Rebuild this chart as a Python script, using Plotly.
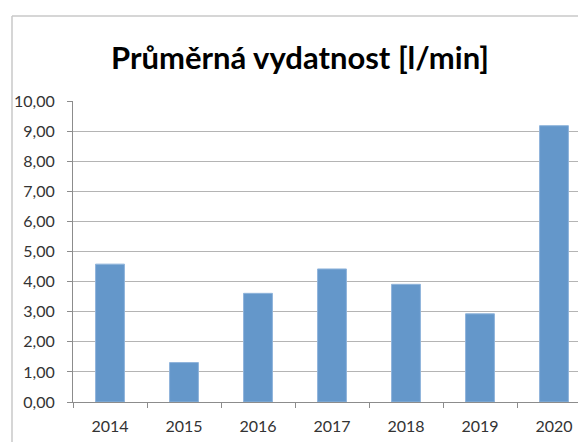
import plotly.graph_objects as go

years = ["2014", "2015", "2016", "2017", "2018", "2019", "2020"]
values = [4.58, 1.31, 3.61, 4.42, 3.91, 2.93, 9.18]
title_text = "Průměrná vydatnost [l/min]"

# page is rendered with an 8px body margin; compensate
OFF = 8
W, H = 586 - OFF, 442 - OFF
ml, mr, mt, mb = 73 - OFF, 0, 101 - OFF, 40
pw = W - ml - mr
ph = H - mt - mb
cat_px = 74.0

fig = go.Figure(go.Bar(
    x=years, y=values,
    width=0.39,
    marker=dict(color="#6497ca", line=dict(color="#8fb4db", width=1)),
))

grid = "#b4b4b4"
fig.update_layout(
    width=W, height=H,
    margin=dict(l=ml, r=mr, t=mt, b=mb),
    paper_bgcolor="white", plot_bgcolor="white",
    separators=", ",
    showlegend=False,
    font=dict(family="Lato, Open Sans, sans-serif", size=16, color="#333333"),
    title=dict(text="<b>" + title_text + "</b>", x=(300 - OFF - ml) / pw, xref="paper",
               xanchor="center", y=1 - (58 - OFF) / H, yanchor="middle", yref="container",
               font=dict(family="Lato, Open Sans, sans-serif", size=31, color="#000000")),
    xaxis=dict(
        type="category",
        range=[-0.5, -0.5 + pw / cat_px],
        tickson="boundaries", ticks="outside", ticklen=5, tickcolor="#8c8c8c",
        showline=True, linecolor="#8c8c8c", linewidth=1,
        showgrid=False, fixedrange=True, ticklabelstandoff=10,
        tickfont=dict(size=16, color="#333333"),
    ),
    yaxis=dict(
        range=[0, 10], dtick=1, tickformat=".2f",
        showgrid=True, gridcolor=grid, gridwidth=1,
        ticks="outside", ticklen=5, tickcolor="#8c8c8c",
        showline=True, linecolor="#8c8c8c", linewidth=1,
        zeroline=False, ticklabelstandoff=9,
        tickfont=dict(size=16, color="#333333"),
    ),
)

# chart frame (left and top edges visible in the crop)
fx = (12 - OFF - ml) / pw
fy = (H - mb - (16 - OFF)) / ph
fig.add_shape(type="line", xref="paper", yref="paper", x0=fx, x1=fx, y0=-0.2, y1=fy,
              line=dict(color="#c8c8c8", width=1.5))
fig.add_shape(type="line", xref="paper", yref="paper", x0=fx, x1=1.05, y0=fy, y1=fy,
              line=dict(color="#c8c8c8", width=1.5))

fig.write_html("out.html")
